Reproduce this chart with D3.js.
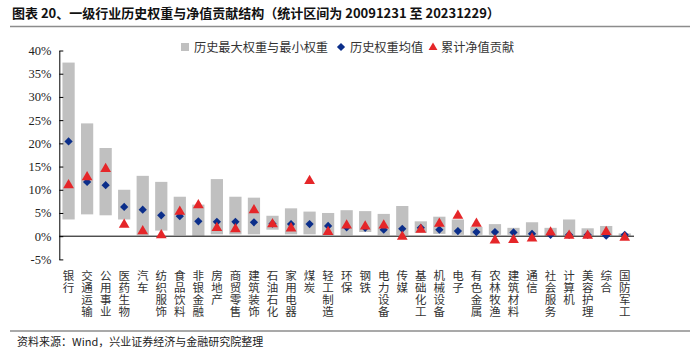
<!DOCTYPE html>
<html>
<head>
<meta charset="utf-8">
<script src="https://cdn.jsdelivr.net/npm/d3@7"></script>
<style>
  body { margin: 0; background: #fff; }
  svg { display: block; }
</style>
</head>
<body>
<script>
const cats = ["银行","交通运输","公用事业","医药生物","汽车","纺织服饰","食品饮料","非银金融","房地产","商贸零售","建筑装饰","石油石化","家用电器","煤炭","轻工制造","环保","钢铁","电力设备","传媒","基础化工","机械设备","电子","有色金属","农林牧渔","建筑材料","通信","社会服务","计算机","美容护理","综合","国防军工"];
// 历史最大权重 / 最小权重 (%)
const maxW = [37.4,24.3,19.0,10.0,13.0,11.7,8.5,6.8,12.3,8.5,8.3,4.4,6.0,5.3,5.0,5.6,5.4,4.8,6.5,3.2,4.2,3.6,2.0,2.6,1.8,3.0,1.8,3.6,1.7,2.2,0.6];
const minW = [3.6,4.7,4.5,3.6,0.2,1.2,0.2,0.1,0.4,0.4,0.4,1.4,0.4,0.4,0.2,0.2,0.9,0.2,0.2,0.7,0.5,0.3,0.3,0.3,0.3,0.2,0.1,0.1,0.1,0.1,0.1];
// 历史权重均值 (%)
const meanW = [20.4,11.7,11.0,6.3,5.7,4.5,4.3,3.2,3.1,3.1,3.0,2.7,2.6,2.6,2.2,1.9,1.8,1.4,1.6,1.8,1.4,1.1,0.9,0.9,0.8,0.5,0.3,0.3,0.3,0.1,0.3];
// 累计净值贡献 (%)
const contrib = [11.0,12.7,14.5,2.5,1.1,0.2,5.3,6.7,1.8,1.5,5.6,2.6,1.7,11.9,0.9,2.3,2.1,2.3,-0.1,1.4,2.7,4.4,2.7,-0.9,-0.8,-0.5,0.8,0.1,0.1,0.9,-0.3];
const yTicks = [-5,0,5,10,15,20,25,30,35,40];

const W = 700, H = 352;
const svg = d3.select("body").append("svg").attr("width", W).attr("height", H);

// title + rules
svg.append("text").attr("x", 12).attr("y", 18)
  .attr("font-family", "Noto Sans CJK SC").attr("font-weight", "bold")
  .attr("font-size", 13).attr("fill", "#111")
  .text("图表 20、一级行业历史权重与净值贡献结构（统计区间为 20091231 至 20231229）");
svg.append("line").attr("x1", 10).attr("x2", 690).attr("y1", 26.5).attr("y2", 26.5)
  .attr("stroke", "#8c8c8c").attr("stroke-width", 1.5);
svg.append("line").attr("x1", 10).attr("x2", 690).attr("y1", 331).attr("y2", 331)
  .attr("stroke", "#8c8c8c").attr("stroke-width", 1.5);
svg.append("text").attr("x", 17).attr("y", 346)
  .attr("font-family", "Noto Sans CJK SC").attr("font-size", 11).attr("fill", "#222")
  .text("资料来源：Wind，兴业证券经济与金融研究院整理");

const x = d3.scaleBand().domain(cats).range([59.3, 634]).paddingInner(0.34).paddingOuter(0.17);
const y = d3.scaleLinear().domain([-5, 40]).range([259.4, 50.5]);

// bars (min-max range)
svg.append("g").selectAll("rect").data(cats).join("rect")
  .attr("x", d => x(d))
  .attr("width", x.bandwidth())
  .attr("y", (d, i) => y(maxW[i]))
  .attr("height", (d, i) => y(minW[i]) - y(maxW[i]))
  .attr("fill", "#c0c0c0");

// y axis
const yAxis = svg.append("g").attr("transform", "translate(59.3,0)")
  .call(d3.axisLeft(y).tickValues(yTicks).tickSizeInner(-4).tickSizeOuter(0)
    .tickFormat(d => d + "%").tickPadding(8));
yAxis.select(".domain").attr("stroke", "#000");
yAxis.selectAll(".tick line").attr("stroke", "#000");
yAxis.selectAll("text").attr("font-family", "Liberation Serif").attr("font-size", 12.5).attr("fill", "#222");

// zero line
svg.append("line").attr("x1", 59.3).attr("x2", 634).attr("y1", y(0)).attr("y2", y(0))
  .attr("stroke", "#000").attr("stroke-width", 1);

// markers
const cx = d => x(d) + x.bandwidth() / 2;
const diamond = d3.symbol(d3.symbolSquare, 34)();
const tri = d3.symbol(d3.symbolTriangle, 50)();

svg.append("g").selectAll("path").data(cats).join("path")
  .attr("d", diamond)
  .attr("transform", (d, i) => `translate(${cx(d)},${y(meanW[i])}) rotate(45)`)
  .attr("fill", "#0b2e8a");

svg.append("g").selectAll("path").data(cats).join("path")
  .attr("d", tri)
  .attr("transform", (d, i) => `translate(${cx(d)},${y(contrib[i])})`)
  .attr("fill", "#e52629");

// vertical category labels
svg.append("g").selectAll("text").data(cats).join("text")
  .attr("x", d => cx(d)).attr("y", 270)
  .attr("font-family", "Noto Sans CJK SC").attr("font-size", 11.5).attr("fill", "#333")
  .style("writing-mode", "vertical-rl").style("text-orientation", "upright")
  .style("letter-spacing", "0.5px")
  .text(d => d);

// legend
const lg = svg.append("g").attr("font-family", "Noto Sans CJK SC").attr("font-size", 12.2).attr("fill", "#333");
lg.append("rect").attr("x", 181).attr("y", 43).attr("width", 8).attr("height", 8).attr("fill", "#c0c0c0");
lg.append("text").attr("x", 194).attr("y", 51.5).text("历史最大权重与最小权重");
lg.append("path").attr("d", diamond).attr("transform", "translate(341,47) rotate(45)").attr("fill", "#0b2e8a");
lg.append("text").attr("x", 350).attr("y", 51.5).text("历史权重均值");
lg.append("path").attr("d", d3.symbol(d3.symbolTriangle, 34)()).attr("transform", "translate(433,47.5)").attr("fill", "#e52629");
lg.append("text").attr("x", 441).attr("y", 51.5).text("累计净值贡献");
</script>
</body>
</html>
